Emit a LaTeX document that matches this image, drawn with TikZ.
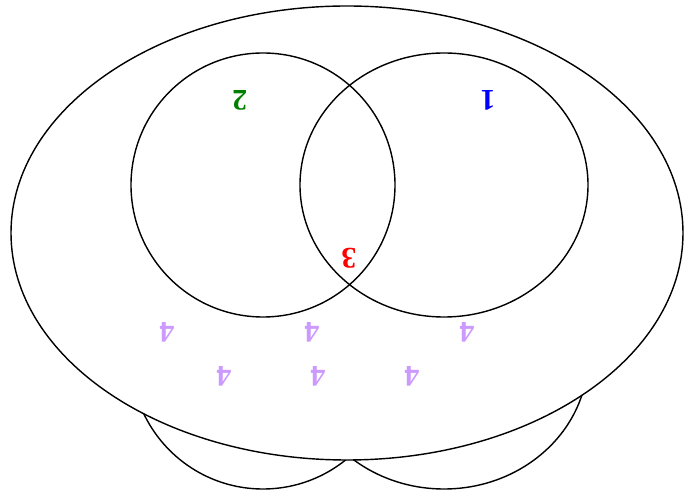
\documentclass[tikz,border=0pt]{standalone}
\usepackage{fontspec}
\setmainfont{Liberation Serif}
\usepackage{xcolor}
\usepackage{tikz}
\usetikzlibrary{positioning}
\definecolor{setgreen}{RGB}{0,128,0}
\definecolor{setblue}{RGB}{0,0,255}
\definecolor{setred}{RGB}{255,0,0}
\definecolor{setlilac}{RGB}{204,153,255}
\tikzset{
    region/.style={draw=black, line width=0.8pt},
    set label/.style={font=\fontsize{17}{20}\selectfont\bfseries, rotate=180, inner sep=0pt}
}

\begin{document}
\begin{tikzpicture}
    \useasboundingbox (0,0) rectangle (13.7,9.9);

    % lower copies, mostly hidden
    \draw[region] (5.26,2.76) circle (2.64);
    \draw[region] (8.88,2.76) ellipse [x radius=2.88, y radius=2.64];

    % outer set
    \draw[region, fill=white] (6.94,5.24) ellipse [x radius=6.72, y radius=4.54];

    % inner sets
    \draw[region] (5.26,6.20) circle (2.64);
    \draw[region] (8.88,6.20) ellipse [x radius=2.88, y radius=2.64];

    \node[set label, text=setgreen] (two) at (4.80,7.90) {2};
    \node[set label, text=setblue] (one) at (9.76,7.90) {1};
    \node[set label, text=setred] (three) at (6.98,4.74) {3};

    \node[set label, text=setlilac] (fourA) at (3.34,3.26) {4};
    \node[set label, text=setlilac] (fourB) at (6.24,3.26) {4};
    \node[set label, text=setlilac] (fourC) at (9.34,3.26) {4};
    \node[set label, text=setlilac] (fourD) at (4.48,2.38) {4};
    \node[set label, text=setlilac] (fourE) at (6.36,2.38) {4};
    \node[set label, text=setlilac] (fourF) at (8.24,2.38) {4};

\end{tikzpicture}
\end{document}
